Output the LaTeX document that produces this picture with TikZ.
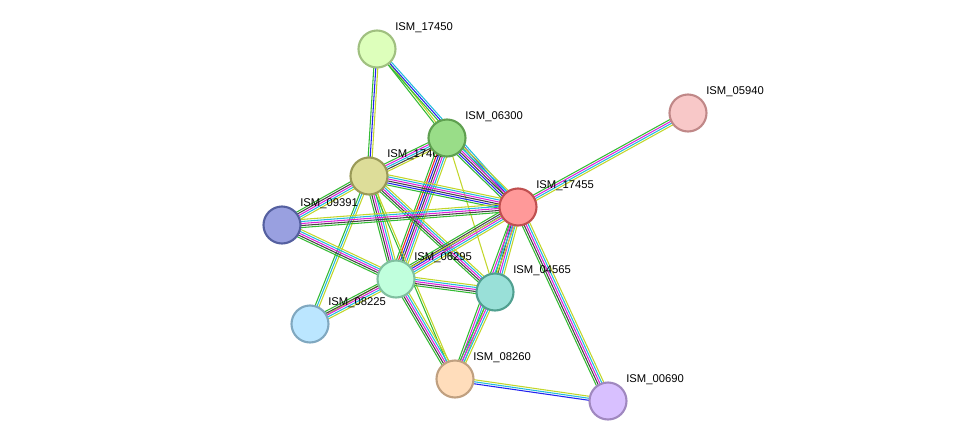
\documentclass[tikz,border=0pt]{standalone}
\usepackage{fontspec}
\setmainfont{Liberation Sans}
\usetikzlibrary{calc}
\definecolor{eg}{HTML}{33BB33}
\definecolor{eb}{HTML}{2222EE}
\definecolor{em}{HTML}{DD22DD}
\definecolor{ec}{HTML}{22BBDD}
\definecolor{ek}{HTML}{444444}
\definecolor{ey}{HTML}{C2D62A}
\definecolor{er}{HTML}{EE2222}
\newcommand\edg[4]{%
  \foreach \c [count=\i] in {#4} {%
    \pgfmathsetlengthmacro\off{(\i-(#3+1)/2)*1.15pt}%
    \draw[\c,line width=0.6pt] ($(#1)!\off!90:(#2)$) -- ($(#2)!\off!-90:(#1)$);
  }}
\tikzset{
  prot/.style={circle,minimum size=0.74cm,line width=1.2pt,inner sep=0pt},
  lab/.style={anchor=west,font=\fontsize{6.4pt}{7pt}\selectfont,inner sep=0pt}
}
\begin{document}
\begin{tikzpicture}[x=0.02cm,y=-0.02cm]
\useasboundingbox (0,0) rectangle (975,447);
\coordinate (p17450) at (377,49);
\coordinate (p06300) at (447,138);
\coordinate (p05940) at (688,113);
\coordinate (p17455) at (518,207);
\coordinate (p17460) at (369,176);
\coordinate (p09391) at (282,225);
\coordinate (p06295) at (396,279);
\coordinate (p04565) at (495,292);
\coordinate (p08225) at (310,324);
\coordinate (p08260) at (455,379);
\coordinate (p00690) at (608,401);
% edges
\edg{p17450}{p06300}{2}{eg,ey}
\edg{p17450}{p17460}{3}{eg,eb,ey}
\edg{p17450}{p17455}{3}{eg,eb,ec}
\edg{p06300}{p17460}{5}{eg,em,ec,ek,ey}
\edg{p06300}{p17455}{6}{eg,eb,ek,em,ec,ey}
\edg{p06300}{p06295}{7}{eg,er,eb,ek,em,ec,ey}
\edg{p06300}{p04565}{1}{ey}
\edg{p05940}{p17455}{4}{eg,em,ec,ey}
\edg{p17460}{p17455}{6}{eg,eb,ek,em,ec,ey}
\edg{p17460}{p09391}{5}{eg,ek,em,ec,ey}
\edg{p17460}{p06295}{5}{eg,ek,em,ec,ey}
\edg{p17460}{p04565}{5}{eg,ek,em,ec,ey}
\edg{p17460}{p08225}{3}{eg,ec,ey}
\edg{p17460}{p08260}{2}{eg,ey}
\edg{p09391}{p17455}{5}{eg,ek,em,ec,ey}
\edg{p09391}{p06295}{5}{eg,ek,em,ec,ey}
\edg{p17455}{p06295}{6}{eg,ek,eb,em,ec,ey}
\edg{p17455}{p04565}{5}{eg,ek,em,ec,ey}
\edg{p17455}{p08260}{4}{eg,em,ec,ey}
\edg{p17455}{p00690}{5}{eg,ek,em,ec,ey}
\edg{p17455}{p08225}{1}{ey}
\edg{p06295}{p04565}{5}{eg,ek,em,ec,ey}
\edg{p06295}{p08225}{5}{eg,ek,em,ec,ey}
\edg{p06295}{p08260}{5}{eg,ek,em,ec,ey}
\edg{p04565}{p08260}{4}{eg,em,ec,ey}
\edg{p08260}{p00690}{3}{eb,ec,ey}
% labels
\foreach \p/\t in {17450/ISM\_17450,06300/ISM\_06300,05940/ISM\_05940,17455/ISM\_17455,17460/ISM\_17460,09391/ISM\_09391,06295/ISM\_06295,04565/ISM\_04565,08225/ISM\_08225,08260/ISM\_08260,00690/ISM\_00690}
  \node[lab] (l\p) at ($(p\p)+(18,-21)$) {\t};
% nodes
\foreach \p/\f/\d in {17450/DDFFBB/A0C080,06300/99DD88/5FA050,05940/F8C8C8/C08888,17455/FF9999/C05050,17460/DDDD99/9A9A58,09391/99A0E0/5560A0,06295/C0FFDD/80C0A0,04565/99E0D8/50A090,08225/BBE6FF/80A8C0,08260/FFDDBB/C0A080,00690/D8C0FF/A088C0}{
  \definecolor{f}{HTML}{\f}\definecolor{d}{HTML}{\d}
  \node[prot,fill=f,draw=d] (n\p) at (p\p) {};
}
\end{tikzpicture}
\end{document}
